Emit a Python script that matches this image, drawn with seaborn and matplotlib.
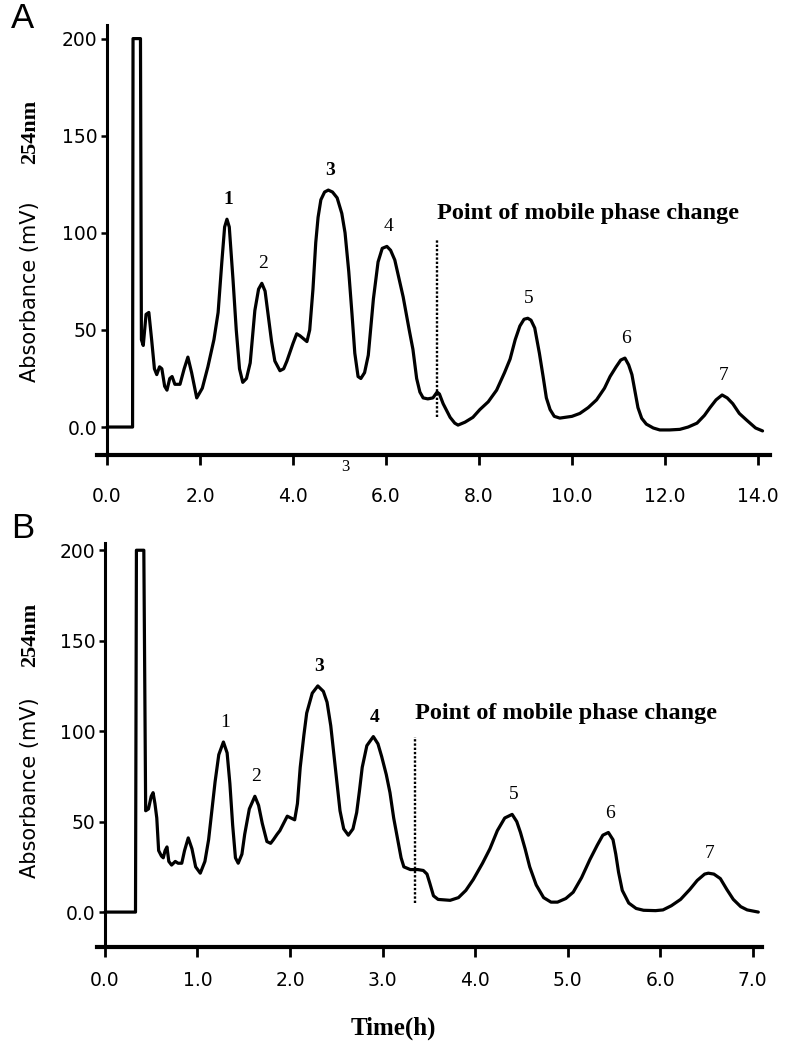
import matplotlib
matplotlib.use("Agg")
import matplotlib.pyplot as plt
import seaborn as sns
import pandas as pd

# ---- panel A: 14 h run ----
a_time = [0.0, 0.55, 0.56, 0.72, 0.74, 0.78, 0.84, 0.90, 0.96, 1.02, 1.07, 1.13, 1.18, 1.24, 1.29,
          1.35, 1.40, 1.46, 1.57, 1.66, 1.74, 1.82, 1.93, 2.05, 2.17, 2.30, 2.39, 2.47, 2.53, 2.58,
          2.63, 2.71, 2.78, 2.85, 2.92, 3.00, 3.08, 3.18, 3.26, 3.33, 3.40, 3.46, 3.54, 3.61, 3.72,
          3.80, 3.87, 4.00, 4.08, 4.15, 4.30, 4.36, 4.43, 4.49, 4.54, 4.60, 4.68, 4.76, 4.85, 4.95,
          5.05, 5.12, 5.20, 5.27, 5.33, 5.40, 5.46, 5.54, 5.62, 5.73, 5.83, 5.92, 6.02, 6.10, 6.19,
          6.37, 6.50, 6.58, 6.66, 6.73, 6.80, 6.90, 7.01, 7.10, 7.15, 7.23, 7.38, 7.48, 7.55, 7.70,
          7.87, 8.02, 8.20, 8.38, 8.55, 8.67, 8.78, 8.88, 8.97, 9.05, 9.12, 9.20, 9.30, 9.38, 9.45,
          9.53, 9.62, 9.74, 10.00, 10.17, 10.35, 10.53, 10.70, 10.82, 10.95, 11.05, 11.14, 11.22,
          11.29, 11.36, 11.42, 11.50, 11.60, 11.75, 11.89, 12.10, 12.32, 12.50, 12.69, 12.85, 12.97,
          13.10, 13.23, 13.34, 13.46, 13.60, 13.76, 13.95, 14.10]
a_abs = [0, 0, 200, 200, 45, 42, 58, 59, 45, 30, 27, 31, 30, 21, 19,
         25, 26, 22, 22, 30, 36, 28, 15, 20, 31, 45, 59, 85, 103, 107,
         103, 76, 50, 30, 23, 25, 33, 60, 71, 74, 70, 59, 44, 34, 29,
         30, 34, 43, 48, 47, 44, 50, 71, 95, 108, 117, 121, 122, 121, 118,
         110, 100, 80, 58, 38, 26, 25, 28, 37, 66, 85, 92, 93, 91, 86,
         67, 50, 40, 25, 18, 15, 14.5, 15, 18, 17, 12, 5, 2, 1, 2.5,
         5, 9, 13, 19, 28, 35, 45, 52, 55.5, 56, 55, 51, 38, 26, 15,
         9, 5.5, 4.6, 5.5, 7, 10, 14, 20, 26, 31, 34.5, 35.5, 32,
         27, 18, 10, 4.5, 1.5, -0.5, -1.5, -1.5, -1.2, 0, 2, 6, 10,
         14, 16.5, 15, 12, 7, 3.5, -0.5, -2]
a_ticks = [0, 2, 4, 6, 8, 10, 12, 14]
a_peak_time = [2.58, 3.33, 4.76, 6.02, 9.05, 11.14, 13.23]
a_change = 7.1

# ---- panel B: 7 h run ----
b_time = [0.0, 0.33, 0.34, 0.42, 0.44, 0.47, 0.50, 0.52, 0.54, 0.56, 0.58, 0.61, 0.63, 0.65, 0.67,
          0.69, 0.72, 0.76, 0.79, 0.83, 0.86, 0.90, 0.94, 0.98, 1.03, 1.08, 1.12, 1.16, 1.19, 1.23,
          1.28, 1.32, 1.35, 1.38, 1.41, 1.44, 1.48, 1.51, 1.56, 1.62, 1.66, 1.70, 1.75, 1.79, 1.82,
          1.86, 1.89, 1.94, 1.97, 2.01, 2.05, 2.08, 2.11, 2.15, 2.18, 2.24, 2.30, 2.36, 2.40, 2.44,
          2.47, 2.51, 2.54, 2.58, 2.63, 2.68, 2.72, 2.75, 2.78, 2.83, 2.90, 2.95, 2.99, 3.04, 3.08,
          3.12, 3.16, 3.20, 3.23, 3.30, 3.38, 3.44, 3.48, 3.51, 3.55, 3.60, 3.73, 3.82, 3.90, 3.98,
          4.08, 4.16, 4.24, 4.32, 4.40, 4.45, 4.49, 4.54, 4.59, 4.66, 4.74, 4.82, 4.89, 4.98, 5.06,
          5.15, 5.24, 5.32, 5.38, 5.44, 5.49, 5.52, 5.55, 5.59, 5.66, 5.74, 5.82, 5.95, 6.03, 6.12,
          6.22, 6.32, 6.40, 6.48, 6.52, 6.58, 6.65, 6.72, 6.79, 6.87, 6.94, 7.06]
b_abs = [0, 0, 200, 200, 56, 57, 64, 66, 60, 52, 34, 31, 30, 34, 36,
         28, 26, 28, 27, 27, 34, 41, 35, 25, 21.5, 28, 40, 58, 72, 87,
         94, 88, 71, 48, 30, 27, 32, 43, 57, 64, 59, 49, 39, 38, 40,
         43, 45, 50, 53, 52, 51, 60, 80, 98, 110, 121, 125, 122, 116, 103,
         89, 70, 56, 46, 42.5, 46, 55, 67, 80, 92, 97, 93, 86, 76, 66,
         52, 41, 30, 25, 23.5, 23.5, 23, 21, 16, 9, 7, 6.5, 8, 12, 18,
         27, 35, 45, 52, 54, 50, 44, 35, 25, 15, 8, 5.5, 5.5, 7.5, 11,
         19, 29, 37, 42.5, 44, 40, 32, 22, 12, 5, 2, 1, 0.8, 1.2, 3.5,
         7, 12.5, 17.5, 21, 21.5, 21, 18.5, 12.5, 7, 3, 1.2, 0]
b_ticks = [0, 1, 2, 3, 4, 5, 6, 7]
b_peak_time = [1.28, 1.62, 2.30, 2.90, 4.40, 5.44, 6.52]
b_change = 3.35

peak_names = ["1", "2", "3", "4", "5", "6", "7"]
y_ticks = [0, 50, 100, 150, 200]
y_ticklabels = ["0.0", "50", "100", "150", "200"]

sns.set_theme(style="white")
plt.rcParams["font.family"] = ["DejaVu Sans"]
plt.rcParams["text.color"] = "black"
SERIF = ["Liberation Serif", "DejaVu Serif"]

fig = plt.figure(figsize=(7.9, 10.5), dpi=100)


def draw_panel(rect, times, absorb, xlim, ylim, xticks, peak_times, bold_peaks,
               change_t, xpad, tag, tag_y, ylab_y, nm_y):
    ax = fig.add_axes(rect)
    df = pd.DataFrame({"t": times, "a": absorb})
    sns.lineplot(data=df, x="t", y="a", sort=False, estimator=None,
                 color="black", linewidth=2.3, ax=ax)
    ax.set_xlim(*xlim)
    ax.set_ylim(*ylim)
    for s in ["top", "right"]:
        ax.spines[s].set_visible(False)
    ax.spines["left"].set_position(("data", 0))
    ax.spines["left"].set_linewidth(2.2)
    ax.spines["bottom"].set_linewidth(3.0)
    for s in ["left", "bottom"]:
        ax.spines[s].set_color("black")
    ax.set_yticks(y_ticks)
    ax.set_yticklabels(y_ticklabels)
    ax.set_xticks(xticks)
    ax.set_xticklabels([f"{t:.1f}" for t in xticks])
    ax.tick_params(axis="y", direction="out", length=4, width=1.8, pad=3,
                   labelsize=13.5, left=True, colors="black")
    ax.tick_params(axis="x", direction="out", length=7, width=2.0, pad=xpad,
                   labelsize=13.5, bottom=True, colors="black")
    ax.set_xlabel("")
    ax.set_ylabel("")

    # peak numbers
    for name, pt, bold in zip(peak_names, peak_times, bold_peaks):
        h = absorb[times.index(pt)]
        ax.annotate(name, (pt, h), xytext=(1, 14), textcoords="offset points",
                    ha="center", va="center", fontsize=14, family=SERIF,
                    fontweight="bold" if bold else "normal")

    # mobile phase change marker
    ax.plot([change_t, change_t], [5, 97], color="black", linewidth=1.7,
            linestyle=(0, (1, 0.8)))
    ax.text(change_t, 110, "Point of mobile phase change",
            ha="left", va="center", fontsize=17.5, family=SERIF, fontweight="bold")

    fig.text(0.014, tag_y, tag, fontsize=25, ha="left", va="center",
             family=["Liberation Sans", "DejaVu Sans"])
    fig.text(0.038, ylab_y, "Absorbance (mV)", rotation=90, fontsize=15,
             ha="center", va="center")
    fig.text(0.038, nm_y, "254nm", rotation=90, fontsize=16, ha="center",
             va="center", family=SERIF, fontweight="bold")
    return ax


ax_a = draw_panel([97 / 790, 1 - 455 / 1050, 673 / 790, 430 / 1050],
                  a_time, a_abs, (-0.215, 14.26), (-14.4, 207), a_ticks, a_peak_time,
                  [True, False, True, False, False, False, False], a_change, 16,
                  "A", 1 - 19 / 1050, 1 - 292 / 1050, 1 - 132 / 1050)
# stray label below the first time axis
ax_a.text(5.12, -20.5, "3", ha="center", va="center", fontsize=12,
          family=SERIF, clip_on=False)

ax_b = draw_panel([97 / 790, 1 - 947 / 1050, 665 / 790, 404 / 1050],
                  b_time, b_abs, (-0.086, 7.1), (-19.3, 204), b_ticks, b_peak_time,
                  [False, False, True, True, False, False, False], b_change, 10,
                  "B", 1 - 528 / 1050, 1 - 788 / 1050, 1 - 635 / 1050)

fig.text(393 / 790, 1 - 1028 / 1050, "Time(h)", ha="center", va="center",
         fontsize=18, family=SERIF, fontweight="bold")

fig.savefig("out.png", dpi=100, facecolor="white")
